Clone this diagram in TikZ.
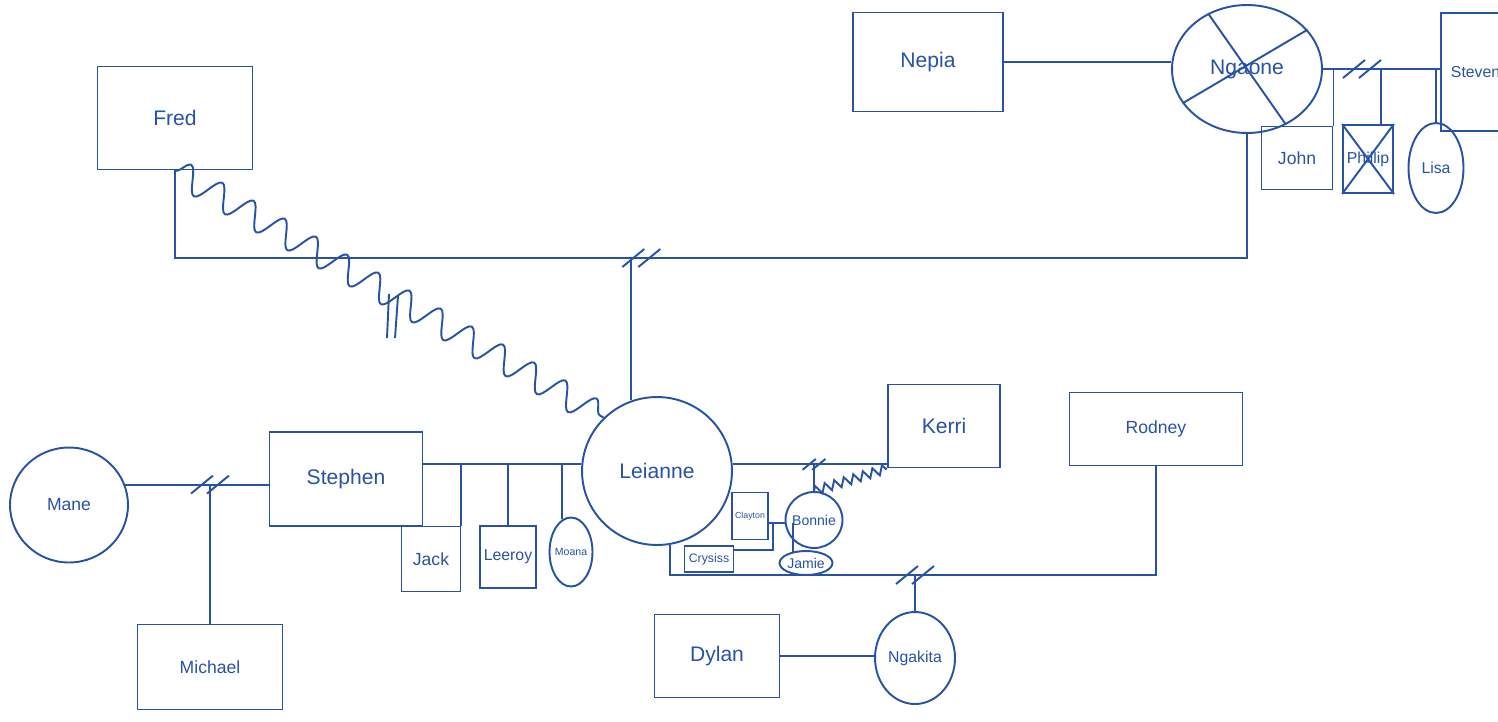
\documentclass[tikz,border=0pt]{standalone}
\usepackage{fontspec}
\setmainfont{Liberation Sans}
\usetikzlibrary{shapes.geometric,decorations.pathmorphing,positioning,calc}
\definecolor{pen}{RGB}{40,82,165}

\begin{document}
\begin{tikzpicture}[x=0.02cm, y=-0.02cm,
    male/.style={rectangle, draw=pen, line width=1.1pt, text=pen, font=\large, inner sep=1pt},
    female/.style={ellipse, draw=pen, line width=1.1pt, text=pen, font=\large, inner sep=0pt, inner xsep=-2pt},
    rel/.style={draw=pen, line width=1.1pt},
    hostile/.style={rel, decorate, decoration={snake, segment length=0.72cm, amplitude=0.26cm}},
    splitmark/.pic={\draw[rel] (-19,9) -- (3,-9) (-3,9) -- (19,-9);}]

    \useasboundingbox (0,0) rectangle (1498,721);

    \node[male, minimum width=3.1cm, minimum height=2.06cm] (fred) at (175,118) {Fred};
    \node[male, minimum width=3cm, minimum height=1.98cm] (nepia) at (928,62) {Nepia};
    \node[female, minimum width=3cm, minimum height=2.56cm] (ngaone) at (1247,69) {Ngaone};
    \node[male, anchor=north west, minimum width=2.4cm, minimum height=2.36cm, text width=2cm, align=left, font=\small] (steven) at (1440,12) {Steven};
    \node[male, minimum width=1.42cm, minimum height=1.26cm, font=\normalsize] (john) at (1297,158) {John};
    \node[male, minimum width=1cm, minimum height=1.36cm, font=\small] (phillip) at (1368,159) {Phillip};
    \node[female, minimum width=1.1cm, minimum height=1.8cm, font=\small] (lisa) at (1436,168) {Lisa};

    \node[female, minimum width=3cm, minimum height=2.96cm] (leianne) at (657,471) {Leianne};
    \node[male, minimum width=3.06cm, minimum height=1.88cm] (stephen) at (346,479) {Stephen};
    \node[female, minimum width=2.36cm, minimum height=2.3cm, font=\normalsize] (mane) at (69,505) {Mane};
    \node[male, minimum width=2.9cm, minimum height=1.7cm, font=\normalsize] (michael) at (210,667) {Michael};
    \node[male, minimum width=1.18cm, minimum height=1.3cm, font=\normalsize] (jack) at (431,559) {Jack};
    \node[male, minimum width=1.12cm, minimum height=1.24cm, font=\small] (leeroy) at (508,557) {Leeroy};
    \node[female, minimum width=0.86cm, minimum height=1.38cm, font=\fontsize{6}{7}\selectfont] (moana) at (571,552) {Moana};

    \node[male, minimum width=2.24cm, minimum height=1.66cm] (kerri) at (944,426) {Kerri};
    \node[female, minimum width=1.14cm, minimum height=1.12cm, font=\footnotesize] (bonnie) at (814,520) {Bonnie};
    \node[male, minimum width=0.72cm, minimum height=0.94cm, font=\tiny] (clayton) at (750,516) {Clayton};
    \node[male, minimum width=0.98cm, minimum height=0.52cm, font=\scriptsize] (crysiss) at (709,559) {Crysiss};
    \node[female, minimum width=1.06cm, minimum height=0.48cm, font=\footnotesize] (jamie) at (806,563) {Jamie};
    \node[male, minimum width=3.46cm, minimum height=1.46cm, font=\normalsize] (rodney) at (1156,429) {Rodney};
    \node[female, minimum width=1.6cm, minimum height=1.84cm, font=\small] (ngakita) at (915,658) {Ngakita};
    \node[male, minimum width=2.5cm, minimum height=1.66cm] (dylan) at (717,656) {Dylan};

    \draw[rel] (ngaone.125) -- (ngaone.-55) (ngaone.208) -- (ngaone.33);
    \draw[rel] (phillip.north west) -- (phillip.south east) (phillip.north east) -- (phillip.south west);

    \draw[rel] (nepia.east) -- (nepia.east -| ngaone.west);
    \draw[rel] (ngaone.east) -- (ngaone.east -| steven.west);
    \pic at (1362,69) {splitmark};
    \draw[rel] (john.north east) -- (john.north east |- ngaone.east);
    \draw[rel] (phillip.70) -- (phillip.70 |- ngaone.east);
    \draw[rel] (lisa.north) -- (lisa.north |- ngaone.east);

    \coordinate (m1) at (leianne.110 |- 0,258);
    \draw[rel] (ngaone.south) |- (m1) -| (fred.south);
    \pic at ($(m1)+(10,0)$) {splitmark};
    \draw[rel] (m1) -- (leianne.110);

    \draw[hostile] (fred.south) -- (leianne.135);
    \coordinate (hm) at (393,316);
    \draw[rel] (hm) ++(-4,-22) -- ++(-2,44) (hm) ++(5,-20) -- ++(-3,42);

    \draw[rel] (leianne.175) -- (leianne.175 -| stephen.east);
    \draw[rel] (jack.north east) -- (jack.north east |- leianne.175);
    \draw[rel] (leeroy.north) -- (leeroy.north |- leianne.175);
    \draw[rel] (moana.105) -- (moana.105 |- leianne.175);

    \draw[rel] (mane.20) -- (mane.20 -| stephen.west);
    \coordinate (m2) at (michael.north |- mane.20);
    \pic at (m2) {splitmark};
    \draw[rel] (m2) -- (michael.north);

    \draw[rel] (leianne.5) -- (leianne.5 -| kerri.west);
    \coordinate (m3) at (bonnie.north |- leianne.5);
    \pic[scale=0.6] at (m3) {splitmark};
    \draw[rel] (m3) -- (bonnie.north);
    \draw[rel, decorate, decoration={zigzag, segment length=0.2cm, amplitude=0.09cm}] (bonnie.north) -- (kerri.south west);

    \coordinate (cb) at (773,523);
    \draw[rel] (clayton.east |- cb) -- (bonnie.west |- cb);
    \draw[rel] (cb) |- (crysiss.20);
    \draw[rel] (jamie.140) -- (jamie.140 |- cb);

    \coordinate (m4) at (ngakita.north |- 0,575);
    \draw[rel] (leianne.-80) |- (m4) -| (rodney.south);
    \pic at (m4) {splitmark};
    \draw[rel] (m4) -- (ngakita.north);
    \draw[rel] (dylan.east) -- (dylan.east -| ngakita.west);
\end{tikzpicture}
\end{document}
